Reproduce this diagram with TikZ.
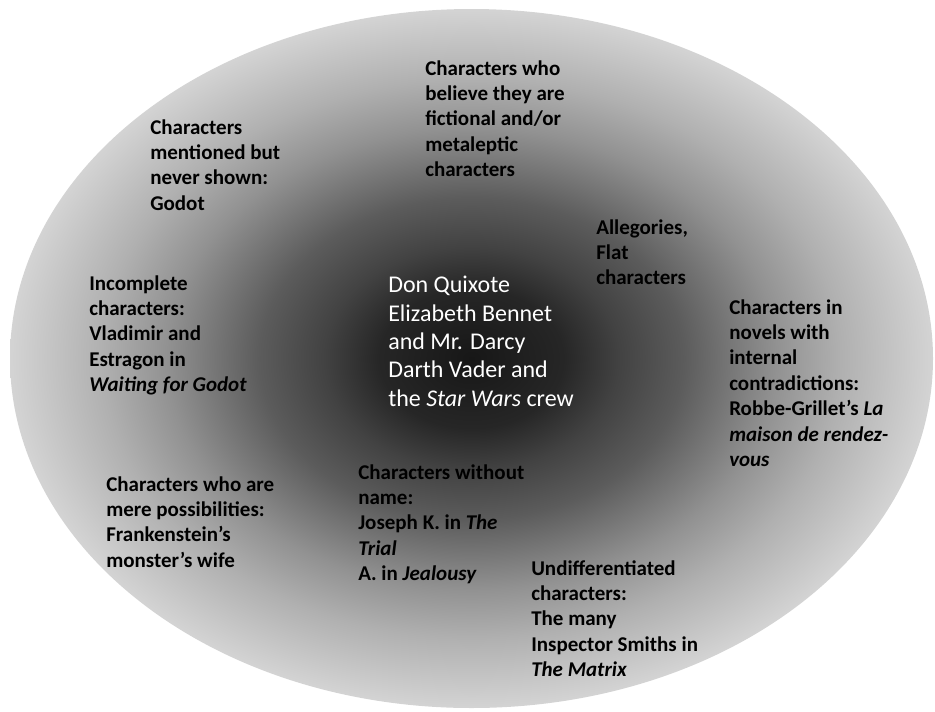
\documentclass[tikz,border=0pt]{standalone}
\usepackage{fontspec}
\setmainfont{Carlito}
\usepackage{tikz}

\definecolor{shadecore}{gray}{0.09}
\definecolor{shadeinner}{gray}{0.15}
\definecolor{shademid}{gray}{0.26}
\definecolor{shadehalf}{gray}{0.36}
\definecolor{shadeouter}{gray}{0.57}
\definecolor{shaderim}{gray}{0.69}
\definecolor{shadeedge}{gray}{0.83}
% the shaded path spans -25bp..25bp of the shading
\pgfdeclareradialshading{charshade}{\pgfpoint{0bp}{0bp}}{color(0bp)=(shadecore); color(5bp)=(shadeinner); color(8bp)=(shademid); color(11.5bp)=(shadehalf); color(16.5bp)=(shadeouter); color(20bp)=(shaderim); color(25bp)=(shadeedge); color(50bp)=(shadeedge)}

\tikzset{
  charlabel/.style={anchor=north west, inner sep=0.75pt, align=left, font=\bfseries\fontsize{15.75}{19.1}\selectfont},
  corelabel/.style={anchor=north west, inner sep=0.75pt, align=left, text=white, font=\fontsize{18}{21.3}\selectfont}
}

\begin{document}
\begin{tikzpicture}[x=0.75pt,y=0.75pt,yscale=-1,xscale=1]
\useasboundingbox (0,0) rectangle (935,711);

%Shape: Ellipse [id:charfield]
\shade [shading=charshade] (471.5,358.5) ellipse [x radius=461.5, y radius=349.5];

% Text Node
\node (quix) at (387,275) [corelabel] {Don Quixote\\Elizabeth Bennet\\and Mr. Darcy\\Darth Vader and\\the \textit{Star Wars} crew};
% Text Node
\node (metalep) at (424,59) [charlabel] {Characters who\\believe they are\\fictional and/or\\metaleptic\\characters};
% Text Node
\node (godot) at (149,118) [charlabel] {Characters\\mentioned but\\never shown:\\Godot};
% Text Node
\node (alleg) at (595,218) [charlabel] {Allegories,\\Flat\\characters};
% Text Node
\node (incompl) at (88,274) [charlabel] {Incomplete\\characters:\\Vladimir and\\Estragon in\\\textit{Waiting for Godot}};
% Text Node
\node (contrad) at (728,298) [charlabel] {Characters in\\novels with\\internal\\contradictions:\\Robbe-Grillet’s \textit{La}\\\textit{maison de rendez-}\\\textit{vous}};
% Text Node
\node (possib) at (105,475) [charlabel] {Characters who are\\mere possibilities:\\Frankenstein’s\\monster’s wife};
% Text Node
\node (noname) at (357,463) [charlabel] {Characters without\\name:\\Joseph K. in \textit{The}\\\textit{Trial}\\A. in \textit{Jealousy}};
% Text Node
\node (undiff) at (530,559) [charlabel] {Undifferentiated\\characters:\\The many\\Inspector Smiths in\\\textit{The Matrix}};

\end{tikzpicture}
\end{document}
